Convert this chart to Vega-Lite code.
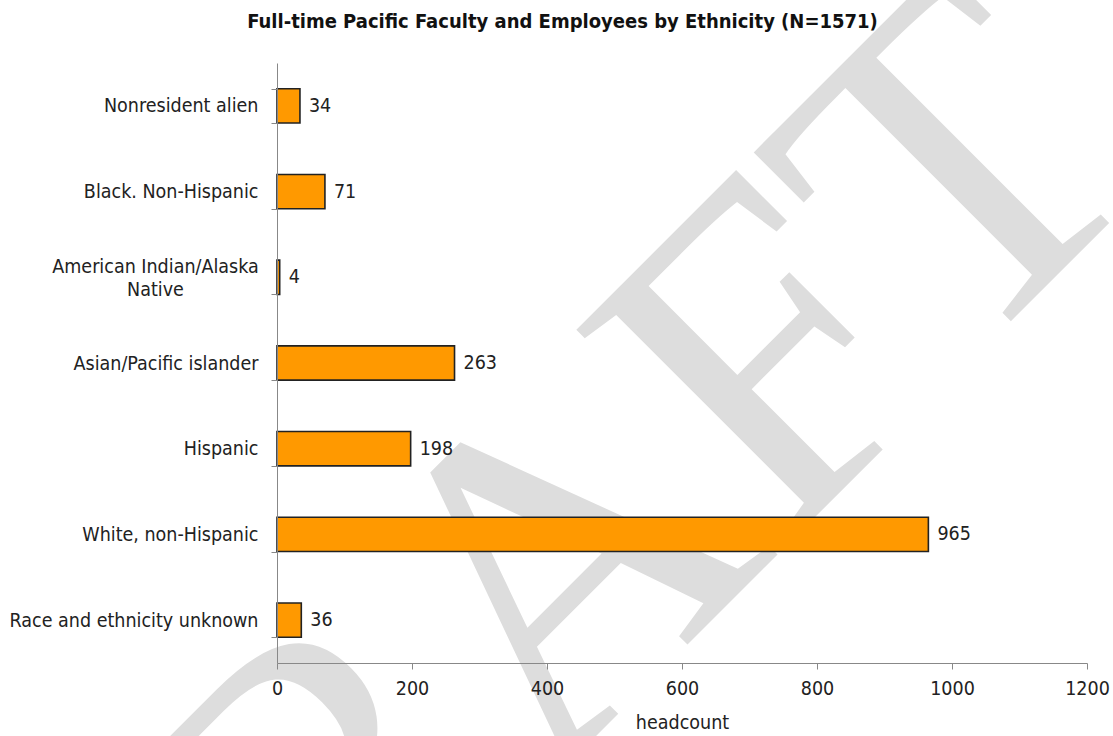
{
  "$schema": "https://vega.github.io/schema/vega-lite/v6.json",
  "width": 810,
  "height": 600,
  "autosize": {"type": "none"},
  "padding": {"left": 277, "top": 63, "right": 26, "bottom": 73},
  "background": "white",
  "config": {"view": {"stroke": null}},
  "data": {
    "values": [
      {"group": "Nonresident alien", "headcount": 34},
      {"group": "Black. Non-Hispanic", "headcount": 71},
      {"group": "American Indian/Alaska Native", "headcount": 4},
      {"group": "Asian/Pacific islander", "headcount": 263},
      {"group": "Hispanic", "headcount": 198},
      {"group": "White, non-Hispanic", "headcount": 965},
      {"group": "Race and ethnicity unknown", "headcount": 36}
    ]
  },
  "resolve": {"axis": {"x": "independent"}},
  "layer": [
    {
      "data": {"values": [{"word": "DRAFT"}]},
      "mark": {
        "type": "text",
        "font": "Liberation Serif",
        "fontSize": 460,
        "angle": -45,
        "color": "#dddddd",
        "align": "center",
        "baseline": "middle"
      },
      "encoding": {
        "text": {"field": "word"},
        "x": {"datum": 373, "axis": null},
        "y": {"datum": "Race and ethnicity unknown", "bandPosition": 0.15}
      }
    },
    {
      "mark": {"type": "bar", "fill": "#FF9900", "stroke": "#222222", "strokeWidth": 1.6},
      "encoding": {
        "y": {
          "field": "group",
          "type": "nominal",
          "sort": null,
          "scale": {
            "domain": ["Nonresident alien", "Black. Non-Hispanic", "American Indian/Alaska Native", "Asian/Pacific islander", "Hispanic", "White, non-Hispanic", "Race and ethnicity unknown"],
            "paddingInner": 0.6,
            "paddingOuter": 0.3
          },
          "axis": {
            "title": null,
            "tickBand": "extent",
            "domainColor": "#888888",
            "tickColor": "#888888",
            "tickSize": 6,
            "labelPadding": {"condition": {"test": "datum.value == 'American Indian/Alaska Native'", "value": 116}, "value": 13},
            "labelAlign": {"condition": {"test": "datum.value == 'American Indian/Alaska Native'", "value": "center"}, "value": "right"},
            "labelOffset": {"condition": {"test": "datum.value == 'American Indian/Alaska Native'", "value": -11}, "value": 0},
            "labelFont": "DejaVu Sans Condensed",
            "labelFontSize": 19.5,
            "labelColor": "#222222",
            "labelLimit": 400,
            "labelLineHeight": 23,
            "labelExpr": "datum.value == 'American Indian/Alaska Native' ? ['American Indian/Alaska', 'Native'] : datum.value",
            "zindex": 1
          }
        },
        "x": {
          "field": "headcount",
          "type": "quantitative",
          "scale": {"domain": [0, 1200], "nice": false},
          "axis": {
            "orient": "bottom",
            "title": "headcount",
            "values": [0, 200, 400, 600, 800, 1000, 1200],
            "format": "d",
            "grid": false,
            "domainColor": "#888888",
            "tickColor": "#888888",
            "tickSize": 6,
            "labelPadding": 10,
            "labelFlush": false,
            "labelFont": "DejaVu Sans Condensed",
            "labelFontSize": 19.5,
            "labelColor": "#222222",
            "titleFont": "DejaVu Sans Condensed",
            "titleFontSize": 19.5,
            "titleFontWeight": "normal",
            "titleColor": "#222222",
            "titlePadding": 16,
            "zindex": 1
          }
        }
      }
    },
    {
      "mark": {"type": "text", "align": "left", "baseline": "middle", "dx": 9, "font": "DejaVu Sans Condensed", "fontSize": 19.5, "color": "#222222"},
      "encoding": {
        "y": {"field": "group", "type": "nominal", "sort": null},
        "x": {
          "field": "headcount",
          "type": "quantitative",
          "axis": {
            "orient": "top",
            "title": "Full-time Pacific Faculty and Employees by Ethnicity (N=1571)",
            "labels": false,
            "ticks": false,
            "domain": false,
            "grid": false,
            "titleFont": "DejaVu Sans Condensed",
            "titleFontWeight": "bold",
            "titleFontSize": 20,
            "titleColor": "#111111",
            "titleAlign": "center",
            "titleBaseline": "alphabetic",
            "titleX": 285,
            "titleY": -36
          }
        },
        "text": {"field": "headcount", "type": "quantitative"}
      }
    }
  ]
}
